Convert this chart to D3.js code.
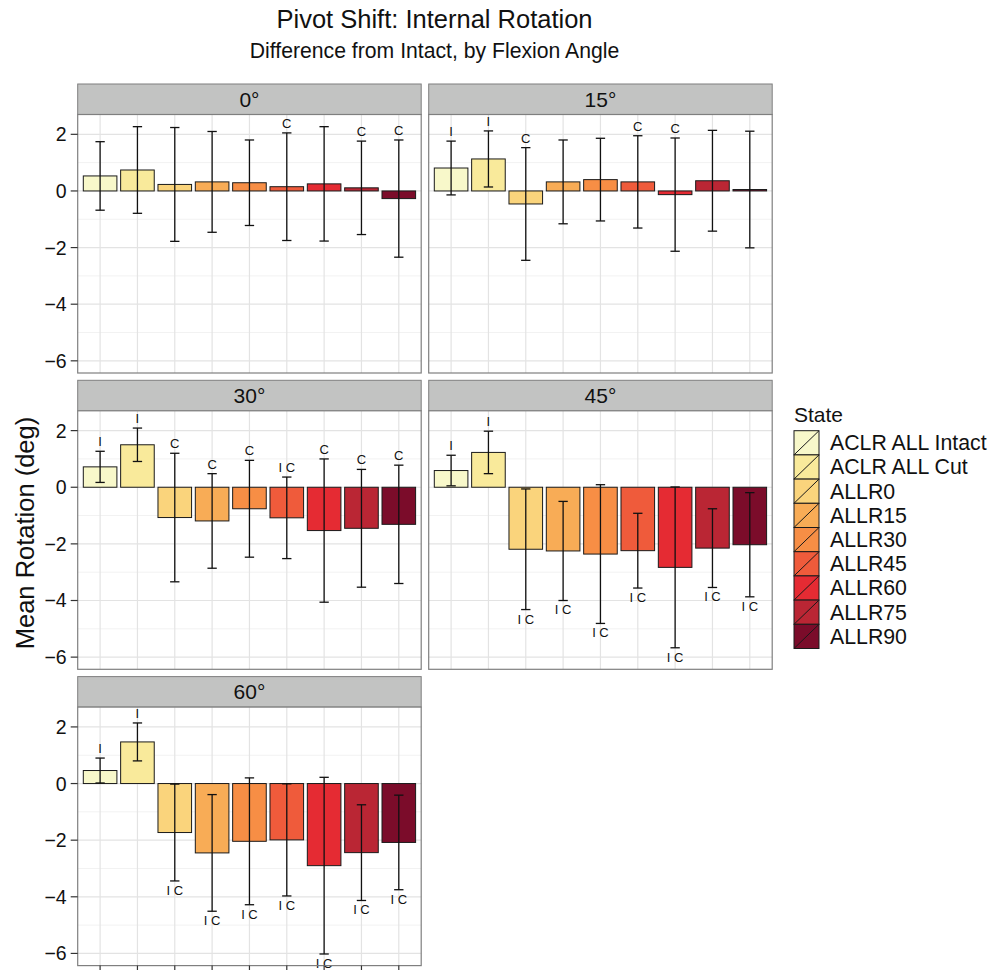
<!DOCTYPE html>
<html>
<head>
<meta charset="utf-8">
<script src="https://cdn.jsdelivr.net/npm/d3@7"></script>
<style>
  body { margin: 0; background: #fff; }
  svg { font-family: "Liberation Sans", Arial, Helvetica, sans-serif; }
</style>
</head>
<body>
<div id="chart"></div>
<script>
// categories
const states = ["ACLR ALL Intact", "ACLR ALL Cut", "ALLR0", "ALLR15", "ALLR30",
  "ALLR45", "ALLR60", "ALLR75", "ALLR90"];
const stateColors = ["#f8f8ca", "#f9ea9b", "#fad47c", "#f8ac56", "#f78e45",
  "#ef5b3b", "#e52b33", "#ba2634", "#7b0c2a"];
const angles = ["0°", "15°", "30°", "45°", "60°"];
const yTicks = [2, 0, -2, -4, -6];

// mean difference from intact, error half-width, significance letters
const mean0 = [0.53, 0.74, 0.23, 0.32, 0.29, 0.15, 0.25, 0.11, -0.27];
const sd0 = [1.21, 1.53, 2.01, 1.78, 1.51, 1.90, 2.02, 1.65, 2.07];
const sig0 = ["", "", "", "", "", "C", "", "C", "C"];

const mean15 = [0.81, 1.13, -0.46, 0.32, 0.40, 0.32, -0.13, 0.36, 0.05];
const sd15 = [0.95, 0.99, 1.99, 1.48, 1.46, 1.63, 2.00, 1.78, 2.06];
const sig15 = ["I", "I", "C", "", "", "C", "C", "", ""];

const mean30 = [0.72, 1.50, -1.07, -1.19, -0.76, -1.08, -1.53, -1.45, -1.31];
const sd30 = [0.55, 0.59, 2.27, 1.67, 1.71, 1.44, 2.53, 2.08, 2.09];
const sig30 = ["I", "I", "C", "C", "C", "I C", "C", "C", "C"];

const mean45 = [0.59, 1.23, -2.19, -2.25, -2.36, -2.24, -2.83, -2.15, -2.03];
const sd45 = [0.54, 0.75, 2.13, 1.75, 2.45, 1.32, 2.84, 1.39, 1.84];
const sig45 = ["I", "I", "I C", "I C", "I C", "I C", "I C", "I C", "I C"];

const mean60 = [0.46, 1.47, -1.73, -2.45, -2.04, -1.99, -2.90, -2.44, -2.08];
const sd60 = [0.44, 0.67, 1.71, 2.06, 2.24, 1.98, 3.12, 1.69, 1.67];
const sig60 = ["I", "I", "I C", "I C", "I C", "I C", "I C", "I C", "I C"];

const means = [mean0, mean15, mean30, mean45, mean60];
const sds = [sd0, sd15, sd30, sd45, sd60];
const sigs = [sig0, sig15, sig30, sig45, sig60];

const panels = angles.map((a, p) => ({
  angle: a,
  col: p % 2,
  row: Math.floor(p / 2),
  values: states.map((s, i) => ({
    state: s, mean: means[p][i], sd: sds[p][i], sig: sigs[p][i]
  }))
}));

const width = 991, height = 970;
const left0 = 77.7, panelW = 343.5, colGap = 7.5;
const top0 = 84, stripH = 30.5, panelH = 258.5, rowGap = 7.3;

const svg = d3.select("#chart").append("svg")
  .attr("width", width).attr("height", height);

const x = d3.scalePoint().domain(states).range([0, panelW]).padding(0.6);
const step = x.step();
const y = d3.scaleLinear().domain([-6.43, 2.70]).range([panelH, 0]);
const color = d3.scaleOrdinal().domain(states).range(stateColors);

// titles
svg.append("text").attr("x", 434.5).attr("y", 28)
  .attr("text-anchor", "middle").attr("font-size", 25.5).attr("fill", "#111")
  .text("Pivot Shift: Internal Rotation");
svg.append("text").attr("x", 434.5).attr("y", 58)
  .attr("text-anchor", "middle").attr("font-size", 21.2).attr("fill", "#111")
  .text("Difference from Intact, by Flexion Angle");

svg.append("text")
  .attr("transform", "translate(34,533) rotate(-90)")
  .attr("text-anchor", "middle").attr("font-size", 25.5).attr("fill", "#111")
  .text("Mean Rotation (deg)");

const minorTicks = [-5, -3, -1, 1];

panels.forEach(p => {
  const px = left0 + p.col * (panelW + colGap);
  const py = top0 + p.row * (stripH + panelH + rowGap);
  const g = svg.append("g").attr("transform", `translate(${px},${py})`);

  // strip
  g.append("rect").attr("width", panelW).attr("height", stripH)
    .attr("fill", "#c2c3c2").attr("stroke", "#7f7f7f").attr("stroke-width", 1);
  g.append("text").attr("x", panelW / 2).attr("y", stripH / 2 + 7.5)
    .attr("text-anchor", "middle").attr("font-size", 21).attr("fill", "#111")
    .text(p.angle);

  const pg = g.append("g").attr("transform", `translate(0,${stripH})`);
  pg.append("rect").attr("width", panelW).attr("height", panelH).attr("fill", "#fff");

  // grid
  pg.selectAll("line.minor").data(minorTicks).join("line")
    .attr("class", "minor")
    .attr("x1", 0).attr("x2", panelW)
    .attr("y1", d => y(d)).attr("y2", d => y(d))
    .attr("stroke", "#f2f2f2").attr("stroke-width", 1);
  pg.selectAll("line.hmajor").data(yTicks).join("line")
    .attr("class", "hmajor")
    .attr("x1", 0).attr("x2", panelW)
    .attr("y1", d => y(d)).attr("y2", d => y(d))
    .attr("stroke", "#e3e3e3").attr("stroke-width", 1.2);
  pg.selectAll("line.vmajor").data(states).join("line")
    .attr("class", "vmajor")
    .attr("x1", d => x(d)).attr("x2", d => x(d))
    .attr("y1", 0).attr("y2", panelH)
    .attr("stroke", "#e3e3e3").attr("stroke-width", 1.2);

  // bars
  pg.selectAll("rect.bar").data(p.values).join("rect")
    .attr("class", "bar")
    .attr("x", d => x(d.state) - step * 0.45)
    .attr("width", step * 0.9)
    .attr("y", d => y(Math.max(0, d.mean)))
    .attr("height", d => Math.abs(y(d.mean) - y(0)))
    .attr("fill", d => color(d.state))
    .attr("stroke", "#1a1a1a").attr("stroke-width", 1);

  // error bars
  const cap = step * 0.125;
  const eb = pg.selectAll("g.err").data(p.values).join("g").attr("class", "err")
    .attr("stroke", "#111").attr("stroke-width", 1.3);
  eb.append("line")
    .attr("x1", d => x(d.state)).attr("x2", d => x(d.state))
    .attr("y1", d => y(d.mean + d.sd)).attr("y2", d => y(d.mean - d.sd));
  eb.append("line")
    .attr("x1", d => x(d.state) - cap).attr("x2", d => x(d.state) + cap)
    .attr("y1", d => y(d.mean + d.sd)).attr("y2", d => y(d.mean + d.sd));
  eb.append("line")
    .attr("x1", d => x(d.state) - cap).attr("x2", d => x(d.state) + cap)
    .attr("y1", d => y(d.mean - d.sd)).attr("y2", d => y(d.mean - d.sd));

  // significance letters: below the bar for the large drops
  pg.selectAll("text.sig").data(p.values.filter(d => d.sig !== "")).join("text")
    .attr("class", "sig")
    .attr("x", d => x(d.state))
    .attr("y", d => d.mean < -1.6 ? y(d.mean - d.sd) + 14 : y(d.mean + d.sd) - 5)
    .attr("text-anchor", "middle").attr("font-size", 13).attr("fill", "#111")
    .attr("xml:space", "preserve")
    .text(d => d.sig);

  pg.append("rect").attr("width", panelW).attr("height", panelH)
    .attr("fill", "none").attr("stroke", "#7f7f7f").attr("stroke-width", 1.2);

  // y axis on left column
  if (p.col === 0) {
    const ya = pg.append("g");
    ya.selectAll("line").data(yTicks).join("line")
      .attr("x1", -7).attr("x2", 0)
      .attr("y1", d => y(d)).attr("y2", d => y(d))
      .attr("stroke", "#333").attr("stroke-width", 1.2);
    ya.selectAll("text").data(yTicks).join("text")
      .attr("x", -11).attr("y", d => y(d) + 7)
      .attr("text-anchor", "end").attr("font-size", 19.5).attr("fill", "#111")
      .text(d => d < 0 ? "\u2212" + Math.abs(d) : d);
  }
  // x ticks on the bottom panel
  if (p.row === 2) {
    pg.selectAll("line.xt").data(states).join("line")
      .attr("class", "xt")
      .attr("x1", d => x(d)).attr("x2", d => x(d))
      .attr("y1", panelH).attr("y2", panelH + 6)
      .attr("stroke", "#333").attr("stroke-width", 1.2);
  }
});

// legend
const lg = svg.append("g").attr("transform", "translate(794,0)");
lg.append("text").attr("x", 0).attr("y", 422)
  .attr("font-size", 21).attr("fill", "#111").text("State");
const keyH = 24.2, keyW = 25, keyTop = 430.7;
const items = lg.selectAll("g.key").data(states).join("g").attr("class", "key")
  .attr("transform", (d, i) => `translate(0,${keyTop + i * keyH})`);
items.append("rect").attr("width", keyW).attr("height", keyH)
  .attr("fill", d => color(d)).attr("stroke", "#1a1a1a").attr("stroke-width", 1);
items.append("line").attr("x1", 0).attr("y1", keyH).attr("x2", keyW).attr("y2", 0)
  .attr("stroke", "#1a1a1a").attr("stroke-width", 1);
items.append("text").attr("x", 36).attr("y", keyH / 2 + 7.5)
  .attr("font-size", 21.3).attr("fill", "#111").text(d => d);
</script>
</body>
</html>
